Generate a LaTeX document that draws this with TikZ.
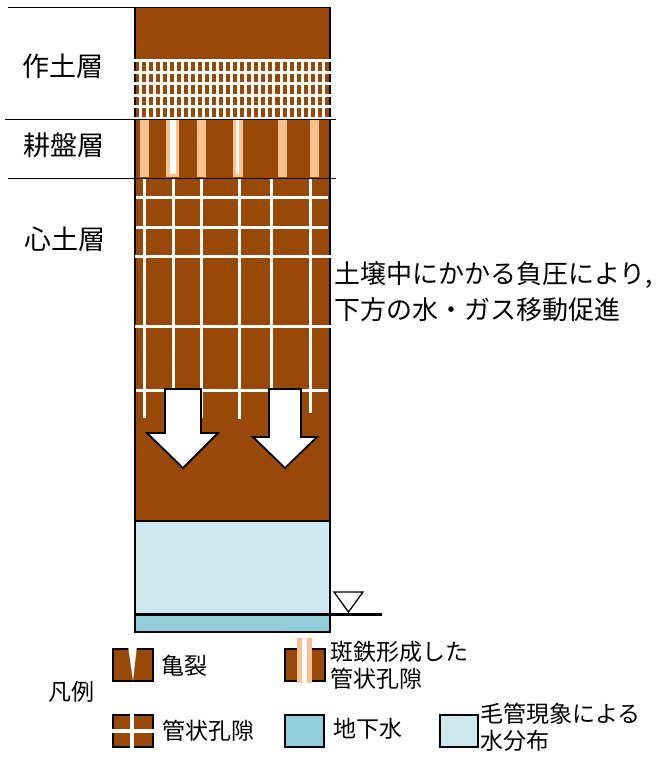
\documentclass[tikz,border=0pt]{standalone}
\usepackage{fontspec}
\setmainfont{Noto Sans CJK JP}
\definecolor{soil}{HTML}{984807}
\definecolor{mottle}{HTML}{FAC090}
\definecolor{capwater}{HTML}{CCE7EE}
\definecolor{groundwater}{HTML}{92CDDC}
\tikzset{
  layerlabel/.style={font=\fontsize{27pt}{30pt}\selectfont, anchor=west, inner sep=0pt},
  note/.style={font=\fontsize{26pt}{36pt}\selectfont, anchor=west, inner sep=0pt, align=left},
  legendtext/.style={font=\fontsize{23pt}{27pt}\selectfont, anchor=west, inner sep=0pt, align=left},
  pore/.style={draw=white, line width=3pt},
  brick/.style={draw=white, line width=3pt},
  layerline/.style={draw=black, line width=1.5pt},
  flowarrow/.style={fill=white, draw=black, line width=1.8pt, line join=miter},
  swatch/.style={draw=black, line width=1.5pt}
}
\begin{document}
\begin{tikzpicture}[x=1pt,y=-1pt]
\useasboundingbox (0,0) rectangle (667,758);

% soil column
\fill[soil] (135,7.5) rectangle (330,521);

% plough layer: brick-like pore pattern
\foreach \k in {0,...,26}
  \draw[brick] ({140+7.05*\k},59) -- ({140+7.05*\k},118);

% hardpan: mottled tubular pores
\fill[mottle] (140,120) rectangle (149,177);
\fill[mottle] (166,120) rectangle (179,177);
\fill[white]  (170,120) rectangle (176,174);
\fill[mottle] (197,120) rectangle (206,177);
\fill[mottle] (233,120) rectangle (243,177);
\fill[white]  (236,120) rectangle (239,174);
\fill[mottle] (278,120) rectangle (287,177);
\fill[mottle] (310,120) rectangle (319,177);

% subsoil: cracks and tubular pores
\draw[pore] (144,179) -- (144,418);
\draw[pore] (173,179) -- (173,440);
\draw[pore] (201,179) -- (201,418);
\draw[pore] (239,179) -- (239,419);
\draw[pore] (271,179) -- (271,440);
\draw[pore] (310,179) -- (310,413);
\foreach \yy in {197,227,390}
  \draw[pore] (135,\yy) -- (328,\yy);

% capillary fringe and groundwater
\fill[capwater] (135,521) rectangle (330,614);
\fill[groundwater] (135,614) rectangle (330,632);

% column outline
\draw[black, line width=1.8pt] (135,7.5) rectangle (330,632);
\draw[black, line width=1.8pt] (135,521) -- (330,521);

% pores cutting through the outline
\foreach \yy in {60.5,72,83.5,95,106.5,118}
  \draw[brick] (133,\yy) -- (332,\yy);
\foreach \yy in {256,326}
  \draw[pore] (135,\yy) -- (332,\yy);

% layer boundaries
\draw[layerline] (8,7.5) -- (135,7.5);
\draw[layerline] (5,119.5) -- (336,119.5);
\draw[layerline] (8,178.5) -- (336,178.5);

% downward flow arrows
\draw[flowarrow] (165,389) -- (201,389) -- (201,433) -- (218,433) -- (183,468)
  -- (147,433) -- (165,433) -- cycle;
\draw[flowarrow] (269,389) -- (301,389) -- (301,437) -- (317,437) -- (285,468)
  -- (253,437) -- (269,437) -- cycle;

% water table
\coordinate (wtl) at (135,614.5);
\coordinate (wtr) at (382,614.5);
\draw[black, line width=2.2pt] (wtl) -- (wtr);
\draw[black, line width=1.3pt, line join=miter, fill=white] (334,592) -- (363,592) -- (348.5,612) -- cycle;

% layer names
\node[layerlabel] (sakudo) at (22,66) {作土層};
\node[layerlabel] (kouban) at (23,145) {耕盤層};
\node[layerlabel] (shindo) at (24,239.5) {心土層};

% explanation
\node[note] (expl) at (334,292) {土壌中にかかる負圧により,\\下方の水・ガス移動促進};

% legend
\node[legendtext] (hanrei) at (48,692) {凡例};

\fill[soil] (113,649) rectangle (153,681);
\draw[swatch] (113,649) rectangle (153,681);
\fill[white] (128,646) -- (137,646) -- (133,681) -- cycle;
\node[legendtext] (kiretsu) at (161,666) {亀裂};

\fill[soil] (285,649) rectangle (325,681);
\draw[swatch] (285,649) rectangle (325,681);
\fill[mottle] (297,638) rectangle (312,683);
\fill[white] (301.5,638) rectangle (307,683);
\node[legendtext] (hantetsu) at (330,665.5) {斑鉄形成した\\管状孔隙};

\fill[soil] (113,715) rectangle (153,747);
\draw[swatch] (113,715) rectangle (153,747);
\draw[white, line width=3.5pt] (132,714) -- (132,748);
\draw[white, line width=3.5pt] (112,731) -- (154,731);
\node[legendtext] (kanjou) at (162,731) {管状孔隙};

\fill[groundwater] (285,715) rectangle (324,747);
\draw[swatch] (285,715) rectangle (324,747);
\node[legendtext] (chikasui) at (333,728.5) {地下水};

\fill[capwater] (440,715) rectangle (478,747);
\draw[swatch] (440,715) rectangle (478,747);
\node[legendtext] (moukan) at (480,727.5) {毛管現象による\\水分布};
\end{tikzpicture}
\end{document}
